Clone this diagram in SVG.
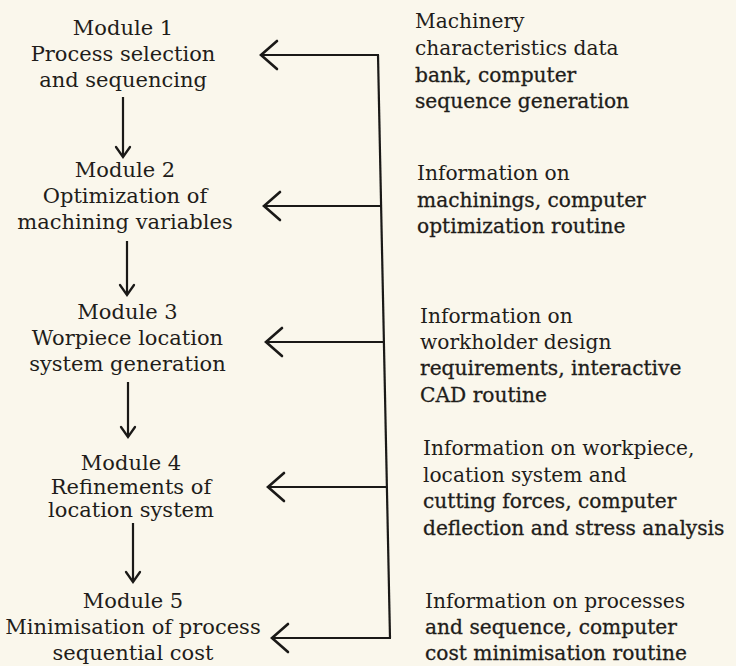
<svg xmlns="http://www.w3.org/2000/svg" width="736" height="666" viewBox="0 0 736 666">
  <style>
    .mod { font-family: "DejaVu Serif", "Liberation Serif", serif; font-size: 21px; fill: #1f1d1a; text-anchor: middle; }
    .info { font-family: "DejaVu Serif", "Liberation Serif", serif; font-size: 20.2px; fill: #1f1d1a; }
    .heavy { stroke: #1f1d1a; stroke-width: 0.3px; }
    .line { fill: none; stroke: #1a1917; stroke-width: 2.2; stroke-linecap: butt; stroke-linejoin: miter; }
  </style>
  <defs>
    <marker id="head-lg" markerUnits="userSpaceOnUse" markerWidth="22" markerHeight="34" refX="18" refY="16" orient="auto" overflow="visible">
      <path d="M 2 2 L 18 16 L 2 30" fill="none" stroke="#1a1917" stroke-width="2.6" stroke-linecap="round" stroke-linejoin="miter"/>
    </marker>
    <marker id="head-sm" markerUnits="userSpaceOnUse" markerWidth="14" markerHeight="18" refX="11" refY="8" orient="auto" overflow="visible">
      <path d="M 1 1 L 11 8 L 1 15" fill="none" stroke="#1a1917" stroke-width="2.3" stroke-linecap="round" stroke-linejoin="miter"/>
    </marker>
  </defs>

  <rect x="0" y="0" width="736" height="666" fill="#faf7ec"/>

  <!-- processing modules -->
  <g id="module1">
    <text class="mod" x="123" y="35">Module 1</text>
    <text class="mod" x="123" y="61">Process selection</text>
    <text class="mod" x="123" y="87">and sequencing</text>
  </g>
  <g id="module2">
    <text class="mod" x="125" y="177">Module 2</text>
    <text class="mod" x="125" y="203">Optimization of</text>
    <text class="mod" x="125" y="229">machining variables</text>
  </g>
  <g id="module3">
    <text class="mod" x="127.5" y="319">Module 3</text>
    <text class="mod" x="127.5" y="345">Worpiece location</text>
    <text class="mod" x="127.5" y="371">system generation</text>
  </g>
  <g id="module4">
    <text class="mod" x="131" y="470">Module 4</text>
    <text class="mod" x="131" y="494">Refinements of</text>
    <text class="mod" x="131" y="517">location system</text>
  </g>
  <g id="module5">
    <text class="mod" x="133" y="608">Module 5</text>
    <text class="mod" x="133" y="634">Minimisation of process</text>
    <text class="mod" x="133" y="660">sequential cost</text>
  </g>

  <!-- supporting information / routines -->
  <g id="info1">
    <text class="info" x="415" y="28">Machinery</text>
    <text class="info" x="415" y="55">characteristics data</text>
    <text class="info heavy" x="415" y="82">bank, computer</text>
    <text class="info heavy" x="415" y="108">sequence generation</text>
  </g>
  <g id="info2">
    <text class="info" x="417" y="180">Information on</text>
    <text class="info heavy" x="417" y="207">machinings, computer</text>
    <text class="info heavy" x="417" y="233">optimization routine</text>
  </g>
  <g id="info3">
    <text class="info" x="420" y="323">Information on</text>
    <text class="info" x="420" y="349">workholder design</text>
    <text class="info heavy" x="420" y="375">requirements, interactive</text>
    <text class="info heavy" x="420" y="402">CAD routine</text>
  </g>
  <g id="info4">
    <text class="info" x="423" y="455">Information on workpiece,</text>
    <text class="info" x="423" y="482">location system and</text>
    <text class="info heavy" x="423" y="508">cutting forces, computer</text>
    <text class="info heavy" x="423" y="535">deflection and stress analysis</text>
  </g>
  <g id="info5">
    <text class="info" x="425" y="608">Information on processes</text>
    <text class="info heavy" x="425" y="634">and sequence, computer</text>
    <text class="info heavy" x="425" y="660">cost minimisation routine</text>
  </g>

  <!-- connectors -->
  <g id="connectors">
    <!-- module sequence -->
    <line class="line" x1="123" y1="97" x2="123" y2="157" marker-end="url(#head-sm)"/>
    <line class="line" x1="127" y1="241" x2="127" y2="295" marker-end="url(#head-sm)"/>
    <line class="line" x1="128" y1="382" x2="128" y2="437" marker-end="url(#head-sm)"/>
    <line class="line" x1="133" y1="523" x2="133" y2="582" marker-end="url(#head-sm)"/>
    <!-- common feed bus -->
    <path class="line" d="M 378 55 L 390 638"/>
    <line class="line" x1="379" y1="55" x2="261" y2="55" marker-end="url(#head-lg)"/>
    <line class="line" x1="381" y1="206" x2="264" y2="206" marker-end="url(#head-lg)"/>
    <line class="line" x1="384" y1="342" x2="266" y2="342" marker-end="url(#head-lg)"/>
    <line class="line" x1="387" y1="487" x2="268" y2="487" marker-end="url(#head-lg)"/>
    <line class="line" x1="391" y1="638" x2="272" y2="638" marker-end="url(#head-lg)"/>
  </g>
</svg>
